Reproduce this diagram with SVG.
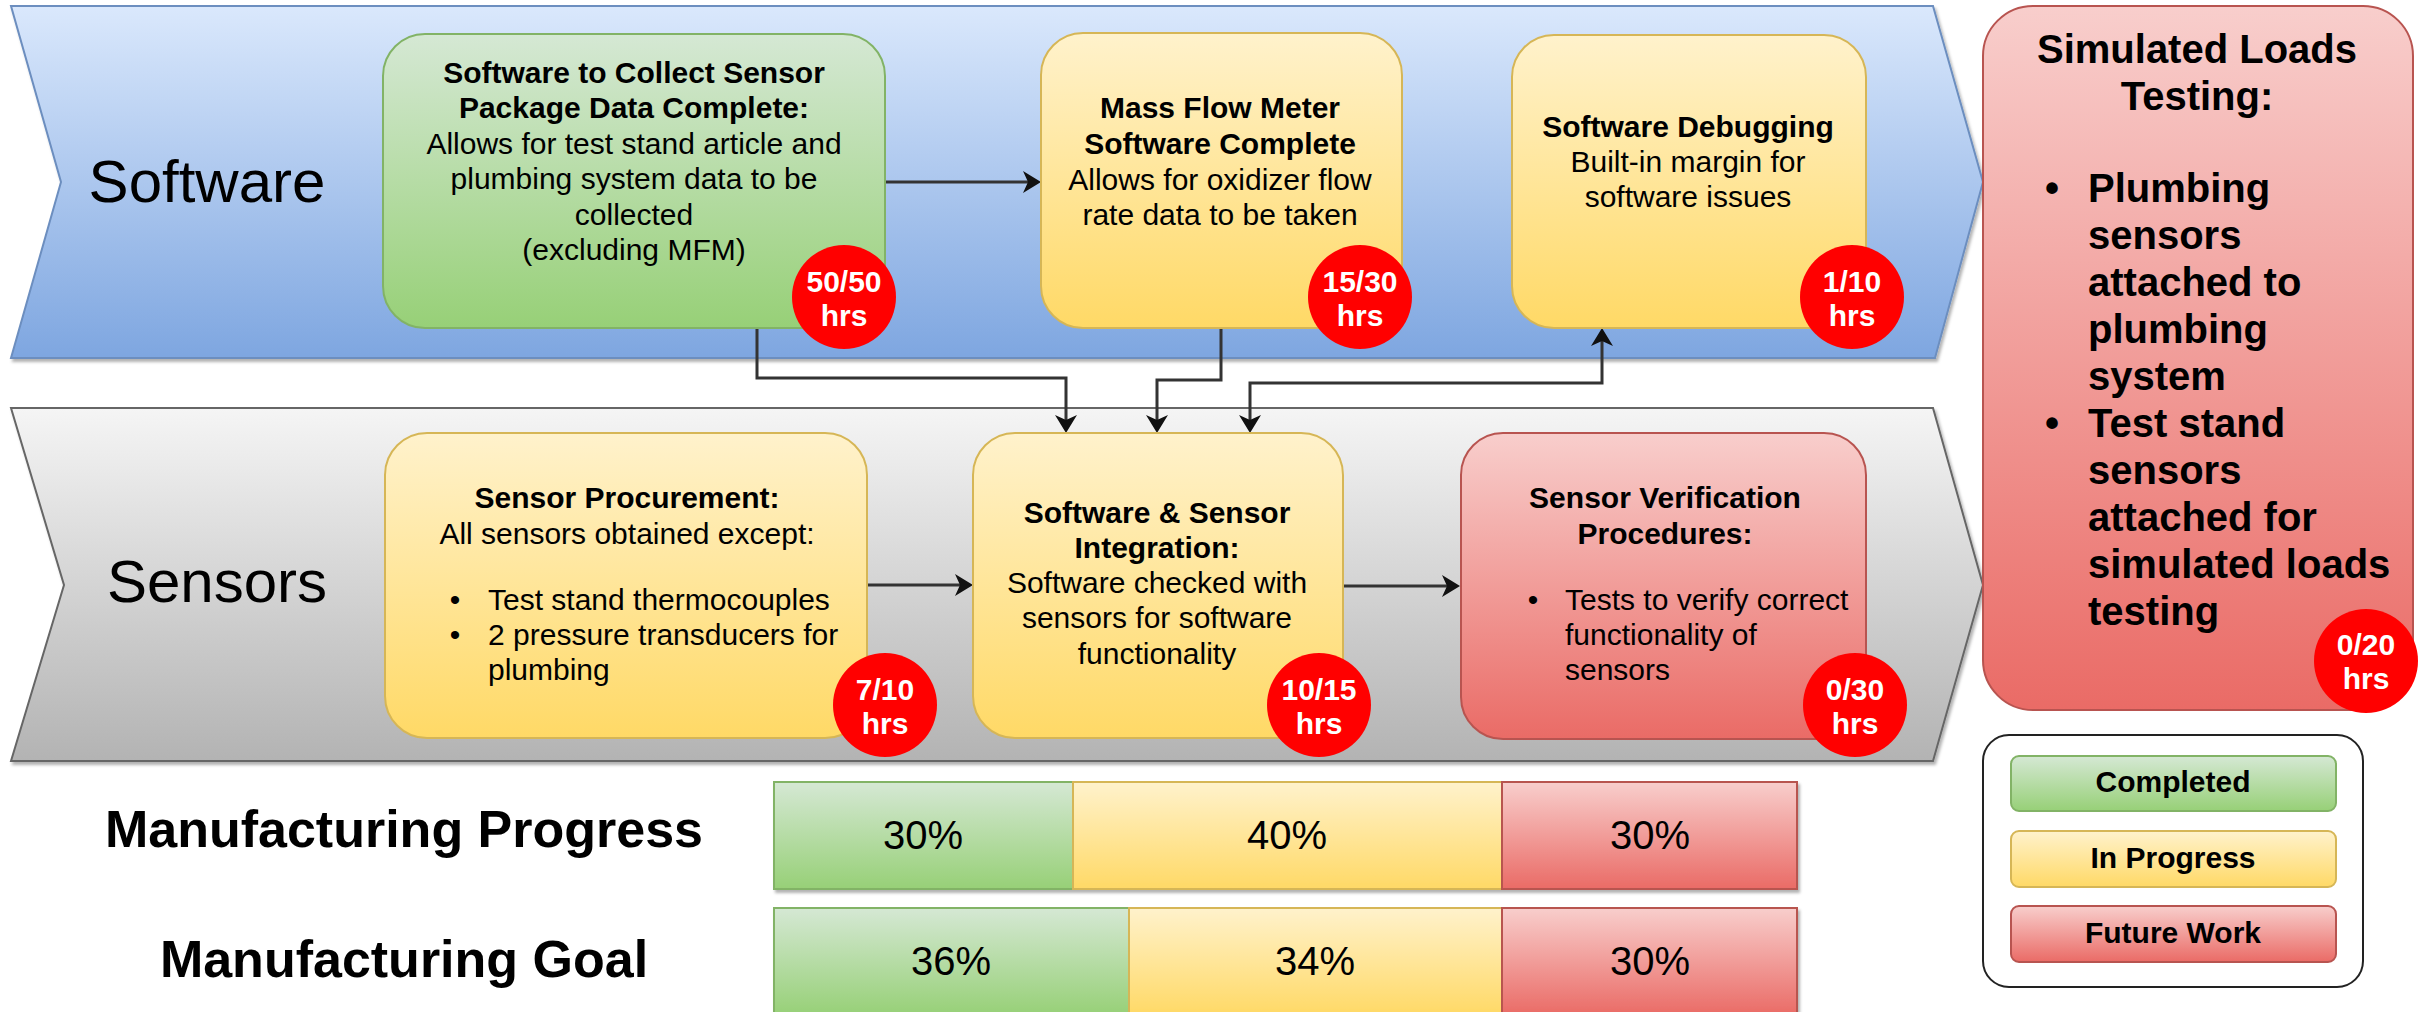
<svg xmlns="http://www.w3.org/2000/svg" width="2422" height="1012" viewBox="0 0 2422 1012">
  <style>
    text { font-family: "Liberation Sans", Arial, Helvetica, sans-serif; fill: #000; }
    .t { font-size: 30px; text-anchor: middle; }
    .l { font-size: 30px; text-anchor: start; }
    .b { font-weight: bold; }
    .lane-label { font-size: 60px; text-anchor: middle; }
    .badge circle { fill: #ff0000; }
    .badge text { fill: #fff; font-size: 30px; font-weight: bold; text-anchor: middle; }
    .sim { font-size: 40px; font-weight: bold; }
    .pct { font-size: 40px; text-anchor: middle; }
    .mfg { font-size: 52px; font-weight: bold; text-anchor: middle; }
    .key { font-size: 30px; font-weight: bold; text-anchor: middle; }
    .conn { fill: none; stroke: #333; stroke-width: 3; }
    .green { fill: url(#gGreen); stroke: #82b366; stroke-width: 2; }
    .yellow { fill: url(#gYellow); stroke: #d6b656; stroke-width: 2; }
    .red { fill: url(#gRed); stroke: #b85450; stroke-width: 2; }
  </style>
  <defs>
    <linearGradient id="gBlue" x1="0" y1="0" x2="0" y2="1">
      <stop offset="0" stop-color="#dae8fc"/>
      <stop offset="1" stop-color="#7ea6e0"/>
    </linearGradient>
    <linearGradient id="gGray" x1="0" y1="0" x2="0" y2="1">
      <stop offset="0" stop-color="#f5f5f5"/>
      <stop offset="1" stop-color="#b3b3b3"/>
    </linearGradient>
    <linearGradient id="gGreen" x1="0" y1="0" x2="0" y2="1">
      <stop offset="0" stop-color="#d5e8d4"/>
      <stop offset="1" stop-color="#97d077"/>
    </linearGradient>
    <linearGradient id="gYellow" x1="0" y1="0" x2="0" y2="1">
      <stop offset="0" stop-color="#fff2cc"/>
      <stop offset="1" stop-color="#ffd966"/>
    </linearGradient>
    <linearGradient id="gRed" x1="0" y1="0" x2="0" y2="1">
      <stop offset="0" stop-color="#f8cecc"/>
      <stop offset="1" stop-color="#ea6b66"/>
    </linearGradient>
    <filter id="shadow" x="-2%" y="-5%" width="104%" height="115%">
      <feDropShadow dx="2" dy="3" stdDeviation="1.5" flood-color="#000" flood-opacity="0.3"/>
    </filter>
    <marker id="arrow" viewBox="0 0 18 22" refX="14" refY="11" markerWidth="18" markerHeight="22" markerUnits="userSpaceOnUse" orient="auto-start-reverse">
      <path d="M0,0 L18,11 L0,22 L5,11 Z" fill="#111"/>
    </marker>
  </defs>

  <!-- swimlane chevrons -->
  <g id="lane-software">
    <polygon points="11,6 1933,6 1983,182 1935,358 11,358 61,182" fill="url(#gBlue)" stroke="#6c8ebf" stroke-width="2" filter="url(#shadow)"/>
    <text class="lane-label" x="207" y="202">Software</text>
  </g>
  <g id="lane-sensors">
    <polygon points="11,408 1933,408 1983,585 1933,761 11,761 64,585" fill="url(#gGray)" stroke="#666" stroke-width="2" filter="url(#shadow)"/>
    <text class="lane-label" x="217" y="602">Sensors</text>
  </g>

  <!-- connectors -->
  <g id="connectors">
    <path class="conn" d="M885,182 H1037" marker-end="url(#arrow)"/>
    <path class="conn" d="M757,328 V378 H1066 V429" marker-end="url(#arrow)"/>
    <path class="conn" d="M1221,328 V380 H1157 V429" marker-end="url(#arrow)"/>
    <path class="conn" d="M1250,429 V383 H1602 V332" marker-start="url(#arrow)" marker-end="url(#arrow)"/>
    <path class="conn" d="M867,585 H969" marker-end="url(#arrow)"/>
    <path class="conn" d="M1343,586 H1456" marker-end="url(#arrow)"/>
  </g>

  <!-- software tasks -->
  <g id="node-collect-software">
    <rect class="green" x="383" y="34" width="502" height="294" rx="42"/>
    <text class="t b" x="634" y="83">Software to Collect Sensor</text>
    <text class="t b" x="634" y="118">Package Data Complete:</text>
    <text class="t" x="634" y="154">Allows for test stand article and</text>
    <text class="t" x="634" y="189">plumbing system data to be</text>
    <text class="t" x="634" y="225">collected</text>
    <text class="t" x="634" y="260">(excluding MFM)</text>
    <g class="badge">
      <circle cx="844" cy="297" r="52"/>
      <text x="844" y="292">50/50</text>
      <text x="844" y="326">hrs</text>
    </g>
  </g>

  <g id="node-mfm-software">
    <rect class="yellow" x="1041" y="33" width="361" height="295" rx="42"/>
    <text class="t b" x="1220" y="118">Mass Flow Meter</text>
    <text class="t b" x="1220" y="154">Software Complete</text>
    <text class="t" x="1220" y="190">Allows for oxidizer flow</text>
    <text class="t" x="1220" y="225">rate data to be taken</text>
    <g class="badge">
      <circle cx="1360" cy="297" r="52"/>
      <text x="1360" y="292">15/30</text>
      <text x="1360" y="326">hrs</text>
    </g>
  </g>

  <g id="node-debugging">
    <rect class="yellow" x="1512" y="35" width="354" height="293" rx="42"/>
    <text class="t b" x="1688" y="137">Software Debugging</text>
    <text class="t" x="1688" y="172">Built-in margin for</text>
    <text class="t" x="1688" y="207">software issues</text>
    <g class="badge">
      <circle cx="1852" cy="297" r="52"/>
      <text x="1852" y="292">1/10</text>
      <text x="1852" y="326">hrs</text>
    </g>
  </g>

  <!-- sensor tasks -->
  <g id="node-procurement">
    <rect class="yellow" x="385" y="433" width="482" height="305" rx="42"/>
    <text class="t b" x="627" y="508">Sensor Procurement:</text>
    <text class="t" x="627" y="544">All sensors obtained except:</text>
    <text class="t" x="455" y="610">•</text>
    <text class="l" x="488" y="610">Test stand thermocouples</text>
    <text class="t" x="455" y="645">•</text>
    <text class="l" x="488" y="645">2 pressure transducers for</text>
    <text class="l" x="488" y="680">plumbing</text>
    <g class="badge">
      <circle cx="885" cy="705" r="52"/>
      <text x="885" y="700">7/10</text>
      <text x="885" y="734">hrs</text>
    </g>
  </g>

  <g id="node-integration">
    <rect class="yellow" x="973" y="433" width="370" height="305" rx="42"/>
    <text class="t b" x="1157" y="523">Software &amp; Sensor</text>
    <text class="t b" x="1157" y="558">Integration:</text>
    <text class="t" x="1157" y="593">Software checked with</text>
    <text class="t" x="1157" y="628">sensors for software</text>
    <text class="t" x="1157" y="664">functionality</text>
    <g class="badge">
      <circle cx="1319" cy="705" r="52"/>
      <text x="1319" y="700">10/15</text>
      <text x="1319" y="734">hrs</text>
    </g>
  </g>

  <g id="node-verification">
    <rect class="red" x="1461" y="433" width="405" height="306" rx="42"/>
    <text class="t b" x="1665" y="508">Sensor Verification</text>
    <text class="t b" x="1665" y="544">Procedures:</text>
    <text class="t" x="1533" y="610">•</text>
    <text class="l" x="1565" y="610">Tests to verify correct</text>
    <text class="l" x="1565" y="645">functionality of</text>
    <text class="l" x="1565" y="680">sensors</text>
    <g class="badge">
      <circle cx="1855" cy="705" r="52"/>
      <text x="1855" y="700">0/30</text>
      <text x="1855" y="734">hrs</text>
    </g>
  </g>

  <g id="node-simulated-loads">
    <rect class="red" x="1983" y="6" width="430" height="704" rx="50"/>
    <text class="sim" x="2197" y="63" text-anchor="middle">Simulated Loads</text>
    <text class="sim" x="2197" y="110" text-anchor="middle">Testing:</text>
    <text class="sim" x="2052" y="202" text-anchor="middle">•</text>
    <text class="sim" x="2088" y="202">Plumbing</text>
    <text class="sim" x="2088" y="249">sensors</text>
    <text class="sim" x="2088" y="296">attached to</text>
    <text class="sim" x="2088" y="343">plumbing</text>
    <text class="sim" x="2088" y="390">system</text>
    <text class="sim" x="2052" y="437" text-anchor="middle">•</text>
    <text class="sim" x="2088" y="437">Test stand</text>
    <text class="sim" x="2088" y="484">sensors</text>
    <text class="sim" x="2088" y="531">attached for</text>
    <text class="sim" x="2088" y="578">simulated loads</text>
    <text class="sim" x="2088" y="625">testing</text>
    <g class="badge">
      <circle cx="2366" cy="661" r="52"/>
      <text x="2366" y="655">0/20</text>
      <text x="2366" y="689">hrs</text>
    </g>
  </g>

  <!-- progress bars -->
  <g id="bar-progress">
    <text class="mfg" x="404" y="847">Manufacturing Progress</text>
    <g filter="url(#shadow)">
      <rect class="green" x="774" y="782" width="299" height="107"/>
      <rect class="yellow" x="1073" y="782" width="429" height="107"/>
      <rect class="red" x="1502" y="782" width="295" height="107"/>
    </g>
    <text class="pct" x="923" y="849">30%</text>
    <text class="pct" x="1287" y="849">40%</text>
    <text class="pct" x="1650" y="849">30%</text>
  </g>

  <g id="bar-goal">
    <text class="mfg" x="404" y="977">Manufacturing Goal</text>
    <g filter="url(#shadow)">
      <rect class="green" x="774" y="908" width="355" height="107"/>
      <rect class="yellow" x="1129" y="908" width="373" height="107"/>
      <rect class="red" x="1502" y="908" width="295" height="107"/>
    </g>
    <text class="pct" x="951" y="975">36%</text>
    <text class="pct" x="1315" y="975">34%</text>
    <text class="pct" x="1650" y="975">30%</text>
  </g>

  <!-- status key -->
  <g id="legend">
    <rect x="1983" y="735" width="380" height="252" rx="26" fill="#fff" stroke="#222" stroke-width="2"/>
    <rect class="green" x="2011" y="756" width="325" height="55" rx="8"/>
    <text class="key" x="2173" y="792">Completed</text>
    <rect class="yellow" x="2011" y="831" width="325" height="56" rx="8"/>
    <text class="key" x="2173" y="868">In Progress</text>
    <rect class="red" x="2011" y="906" width="325" height="56" rx="8"/>
    <text class="key" x="2173" y="943">Future Work</text>
  </g>
</svg>
